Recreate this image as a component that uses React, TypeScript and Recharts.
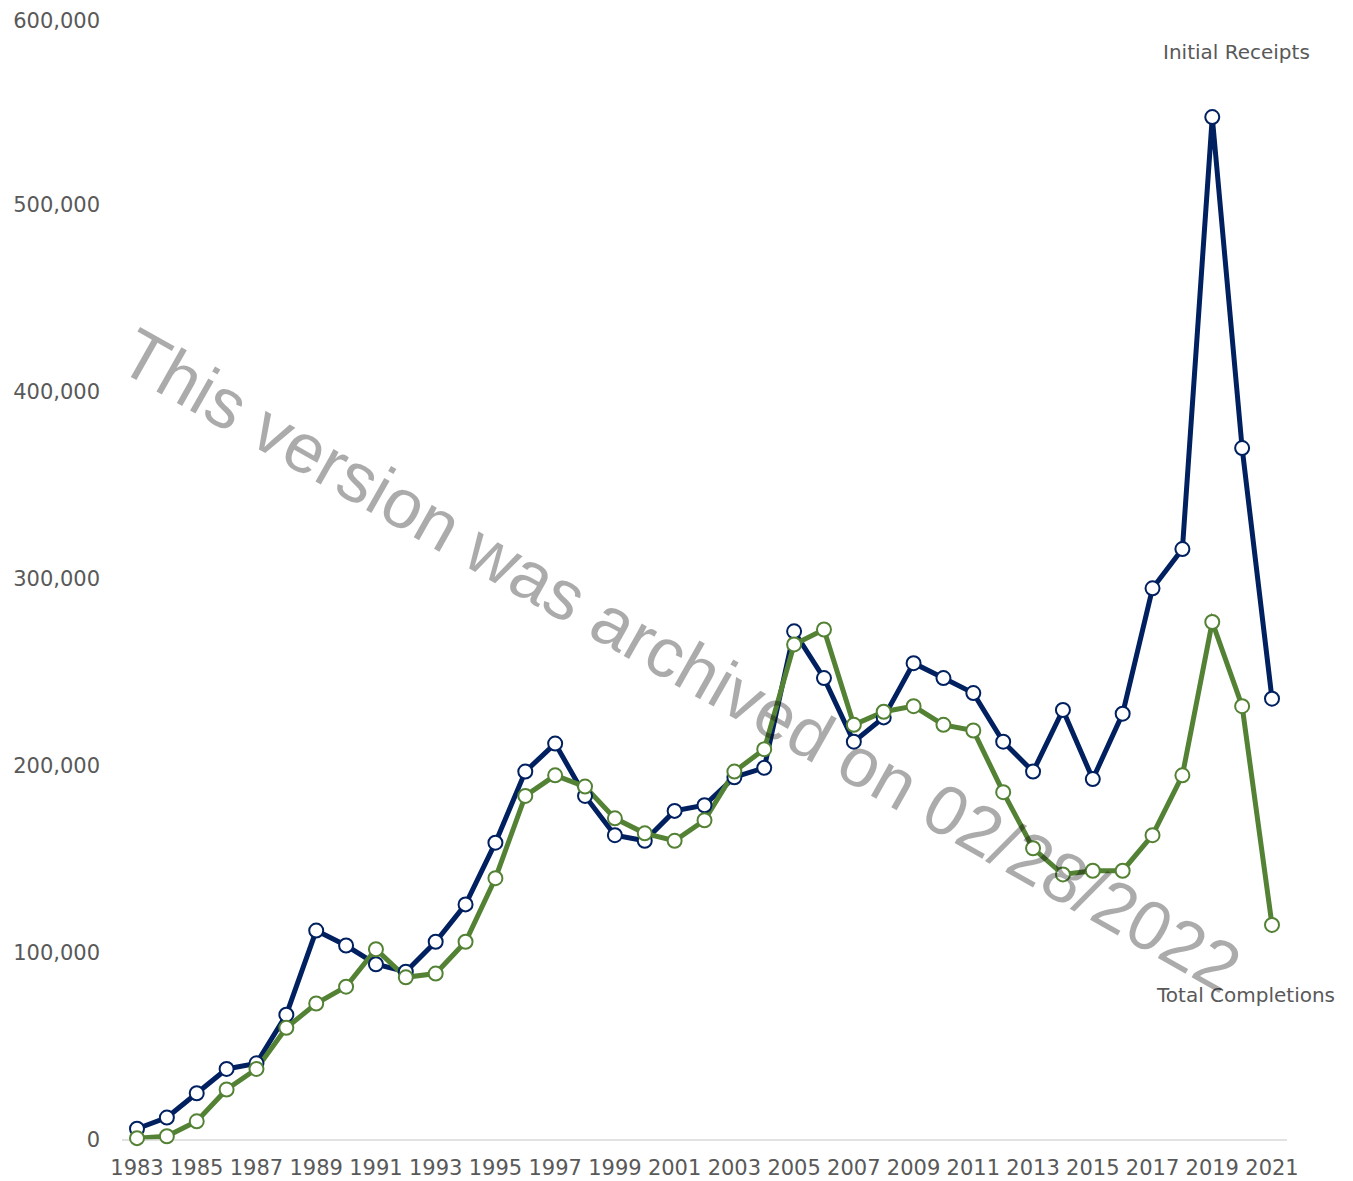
import { Line, LineChart, XAxis, YAxis } from "recharts";

const YEARS = [
  "1983", "1984", "1985", "1986", "1987", "1988", "1989", "1990", "1991", "1992",
  "1993", "1994", "1995", "1996", "1997", "1998", "1999", "2000", "2001", "2002",
  "2003", "2004", "2005", "2006", "2007", "2008", "2009", "2010", "2011", "2012",
  "2013", "2014", "2015", "2016", "2017", "2018", "2019", "2020", "2021",
];

const INITIAL_RECEIPTS = [
  6000, 12000, 25000, 38000, 41000, 67000, 112000, 104000, 94000, 90000,
  106000, 126000, 159000, 197000, 212000, 184000, 163000, 160000, 176000, 179000,
  194000, 199000, 272000, 247000, 213000, 226000, 255000, 247000, 239000, 213000,
  197000, 230000, 193000, 228000, 295000, 316000, 547000, 370000, 236000,
];

const TOTAL_COMPLETIONS = [
  1000, 2000, 10000, 27000, 38000, 60000, 73000, 82000, 102000, 87000,
  89000, 106000, 140000, 184000, 195000, 189000, 172000, 164000, 160000, 171000,
  197000, 209000, 265000, 273000, 222000, 229000, 232000, 222000, 219000, 186000,
  156000, 142000, 144000, 144000, 163000, 195000, 277000, 232000, 115000,
];

const Y_TICKS = [0, 100000, 200000, 300000, 400000, 500000, 600000];

const data = YEARS.map((year, i) => ({
  year,
  receipts: INITIAL_RECEIPTS[i],
  completions: TOTAL_COMPLETIONS[i],
}));

const W = 1345;
const H = 1173;
const FONT = "'DejaVu Sans', sans-serif";
const TEXT = "#595959";
const BLUE = "#002060";
const GREEN = "#548235";

export default function App() {
  return (
    <div style={{ position: "relative", width: W, height: H }}>
      <LineChart width={W} height={H} data={data} margin={{ top: 10, right: 66, bottom: 0, left: 0 }}>
        <XAxis
          dataKey="year"
          interval={1}
          padding={{ left: 15, right: 15 }}
          height={41}
          tickLine={false}
          tickMargin={14}
          axisLine={{ stroke: "#d9d9d9", strokeWidth: 1.5 }}
          tick={{ fill: TEXT, fontSize: 21, fontFamily: FONT }}
        />
        <YAxis
          domain={[0, 600000]}
          ticks={Y_TICKS}
          width={114}
          axisLine={false}
          tickLine={false}
          tickMargin={16}
          tickFormatter={(v: number) => v.toLocaleString("en-US")}
          tick={{ fill: TEXT, fontSize: 21, fontFamily: FONT }}
        />
        <Line
          dataKey="receipts"
          stroke={BLUE}
          strokeWidth={5}
          dot={{ r: 7, fill: "#fff", stroke: BLUE, strokeWidth: 2 }}
          isAnimationActive={false}
        />
        <Line
          dataKey="completions"
          stroke={GREEN}
          strokeWidth={5}
          dot={{ r: 7, fill: "#fff", stroke: GREEN, strokeWidth: 2 }}
          isAnimationActive={false}
        />
      </LineChart>
      <svg
        width={W}
        height={H}
        style={{ position: "absolute", left: 0, top: 0, pointerEvents: "none" }}
      >
        <text x={1155} y={51} fill={TEXT} fontSize={20} fontFamily={FONT}>
          Initial Receipts
        </text>
        <text x={1149} y={994} fill={TEXT} fontSize={20} fontFamily={FONT}>
          Total Completions
        </text>
        <text
          x={107}
          y={360}
          fill="#000"
          fillOpacity={0.33}
          fontSize={70}
          fontFamily="'Liberation Sans', Arial, sans-serif"
          transform="rotate(29.5 107 360)"
        >
          This version was archived on 02/28/2022
        </text>
      </svg>
    </div>
  );
}
